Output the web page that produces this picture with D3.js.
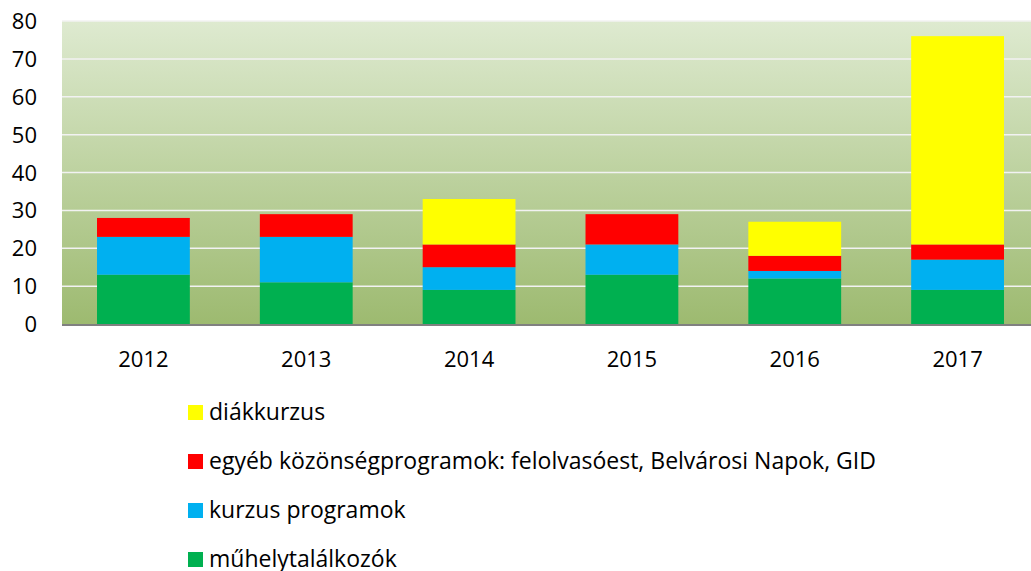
<!DOCTYPE html>
<meta charset="utf-8">
<head>
    <title>Programok</title>
    <script type="text/javascript" src="https://d3js.org/d3.v7.min.js"></script>
    <style>
        body { margin: 0; background: #fff; }
        text { font-family: "Open Sans", "Noto Sans", sans-serif; fill: #000; }
    </style>
</head>
<body>
    <div id="chart"></div>
    <script>
        // data
        var years = ['2012', '2013', '2014', '2015', '2016', '2017'];
        var muhely = [13, 11, 9, 13, 12, 9];
        var kurzus = [10, 12, 6, 8, 2, 8];
        var egyeb = [5, 6, 6, 8, 4, 4];
        var diak = [0, 0, 12, 0, 9, 55];
        var yTicks = [0, 10, 20, 30, 40, 50, 60, 70, 80];

        var seriesNames = ['műhelytalálkozók', 'kurzus programok',
            'egyéb közönségprogramok: felolvasóest, Belvárosi Napok, GID', 'diákkurzus'];
        var seriesColors = ['#00B050', '#00B0F0', '#FF0000', '#FFFF00'];
        var seriesValues = [muhely, kurzus, egyeb, diak];

        var width = 1031, height = 571;
        var plot = { left: 62, right: 1039, top: 21, bottom: 324 };

        var svg = d3.select("#chart").append("svg")
            .attr("width", width)
            .attr("height", height);

        var grad = svg.append("defs").append("linearGradient")
            .attr("id", "bg").attr("x1", 0).attr("y1", 0).attr("x2", 0).attr("y2", 1);
        grad.append("stop").attr("offset", "0%").attr("stop-color", "#DEEAD0");
        grad.append("stop").attr("offset", "100%").attr("stop-color", "#9DBA70");

        var x = d3.scaleBand().domain(years).range([plot.left, plot.right]).paddingInner(0.43).paddingOuter(0.215);
        var y = d3.scaleLinear().domain([0, 80]).range([plot.bottom, plot.top]);

        svg.append("rect")
            .attr("x", plot.left).attr("y", plot.top)
            .attr("width", plot.right - plot.left).attr("height", plot.bottom - plot.top)
            .attr("fill", "url(#bg)");

        // gridlines
        svg.append("g").selectAll("line")
            .data(yTicks.filter(function(d) { return d > 0; }))
            .enter().append("line")
            .attr("x1", plot.left).attr("x2", plot.right)
            .attr("y1", function(d) { return y(d); })
            .attr("y2", function(d) { return y(d); })
            .attr("stroke", "#F2F2F2").attr("stroke-width", 1.5);

        // stacked bars
        var rows = years.map(function(yr, i) {
            var r = { year: yr };
            seriesNames.forEach(function(n, k) { r[n] = seriesValues[k][i]; });
            return r;
        });
        var stack = d3.stack().keys(seriesNames)(rows);

        svg.append("g").selectAll("g")
            .data(stack)
            .enter().append("g")
            .attr("fill", function(d, k) { return seriesColors[k]; })
            .selectAll("rect")
            .data(function(d) { return d; })
            .enter().append("rect")
            .attr("x", function(d) { return x(d.data.year); })
            .attr("width", x.bandwidth())
            .attr("y", function(d) { return y(d[1]); })
            .attr("height", function(d) { return y(d[0]) - y(d[1]); });

        // baseline
        svg.append("line")
            .attr("x1", plot.left).attr("x2", plot.right)
            .attr("y1", plot.bottom + 1).attr("y2", plot.bottom + 1)
            .attr("stroke", "#808080").attr("stroke-width", 2);

        // y labels
        svg.append("g").selectAll("text")
            .data(yTicks)
            .enter().append("text")
            .attr("x", 37).attr("y", function(d) { return y(d) + 8; })
            .attr("text-anchor", "end")
            .attr("font-size", "22px")
            .text(function(d) { return d; });

        // x labels
        svg.append("g").selectAll("text")
            .data(years)
            .enter().append("text")
            .attr("x", function(d) { return x(d) + x.bandwidth() / 2; })
            .attr("y", 367)
            .attr("text-anchor", "middle")
            .attr("font-size", "22px")
            .text(function(d) { return d; });

        // legend, top to bottom reversed
        var legendOrder = [3, 2, 1, 0];
        var lg = svg.append("g").selectAll("g")
            .data(legendOrder)
            .enter().append("g")
            .attr("transform", function(d, i) { return "translate(188," + (412 + i * 49) + ")"; });
        lg.append("rect")
            .attr("x", 0).attr("y", -7).attr("width", 15).attr("height", 15)
            .attr("fill", function(k) { return seriesColors[k]; });
        lg.append("text")
            .attr("x", 21).attr("y", 8)
            .attr("font-size", "23px")
            .text(function(k) { return seriesNames[k]; });
    </script>
</body>
</html>
